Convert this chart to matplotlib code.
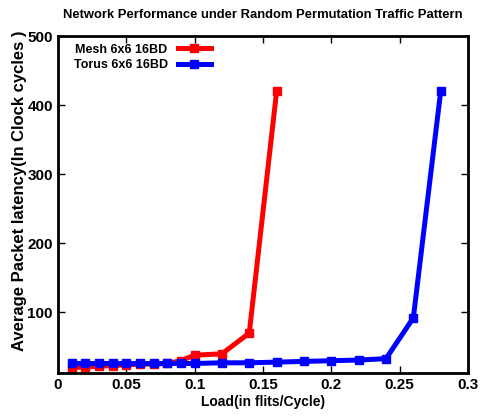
import matplotlib
matplotlib.use("Agg")
import matplotlib.pyplot as plt

plt.rcParams['font.family'] = ['Liberation Sans', 'DejaVu Sans']
plt.rcParams['font.weight'] = 'bold'

mesh_x = [0.01, 0.02, 0.03, 0.04, 0.05, 0.06, 0.07, 0.08, 0.09, 0.1, 0.12, 0.14, 0.16]
mesh_y = [20, 21, 22, 23, 24, 25, 25, 26, 30, 38, 40, 70, 420]
torus_x = [0.01, 0.02, 0.03, 0.04, 0.05, 0.06, 0.07, 0.08, 0.09, 0.1,
           0.12, 0.14, 0.16, 0.18, 0.2, 0.22, 0.24, 0.26, 0.28]
torus_y = [26, 26, 26, 26, 26, 26, 26, 26, 26, 26,
           27, 27, 28, 29, 30, 31, 33, 92, 420]

fig = plt.figure(figsize=(4.86, 4.16), dpi=100)
ax = fig.add_axes([0.119, 0.103, 0.844, 0.810])

ax.plot(mesh_x, mesh_y, color='#ff0000', lw=3.6, marker='s', ms=5.5, label='Mesh 6x6 16BD')
ax.plot(torus_x, torus_y, color='#0000ff', lw=3.6, marker='s', ms=5.5, label='Torus 6x6 16BD')

ax.set_xlim(0, 0.3)
ax.set_ylim(12, 500)
ax.set_xticks([0, 0.05, 0.1, 0.15, 0.2, 0.25, 0.3])
ax.set_xticklabels(['0', '0.05', '0.1', '0.15', '0.2', '0.25', '0.3'])
ax.set_yticks([100, 200, 300, 400, 500])
ax.tick_params(direction='in', top=True, right=True, labelsize=11, length=5, width=1)
for s in ax.spines.values():
    s.set_linewidth(2)

ax.set_xlabel('Load(in flits/Cycle)', fontsize=10, fontweight='bold', labelpad=2)
ax.set_ylabel('Average Packet latency(In Clock cycles )', fontsize=12, fontweight='bold')
ax.yaxis.set_label_coords(-0.075, 0.54)
ax.set_title('Network Performance under Random Permutation Traffic Pattern',
             fontsize=9.4, fontweight='bold', pad=13)

ax.legend(loc='upper left', markerfirst=False, frameon=False, fontsize=9,
          handlelength=2.65, borderaxespad=0.2, labelspacing=0.3,
          bbox_to_anchor=(0.02, 1.0))

fig.savefig('out.png', dpi=100)
